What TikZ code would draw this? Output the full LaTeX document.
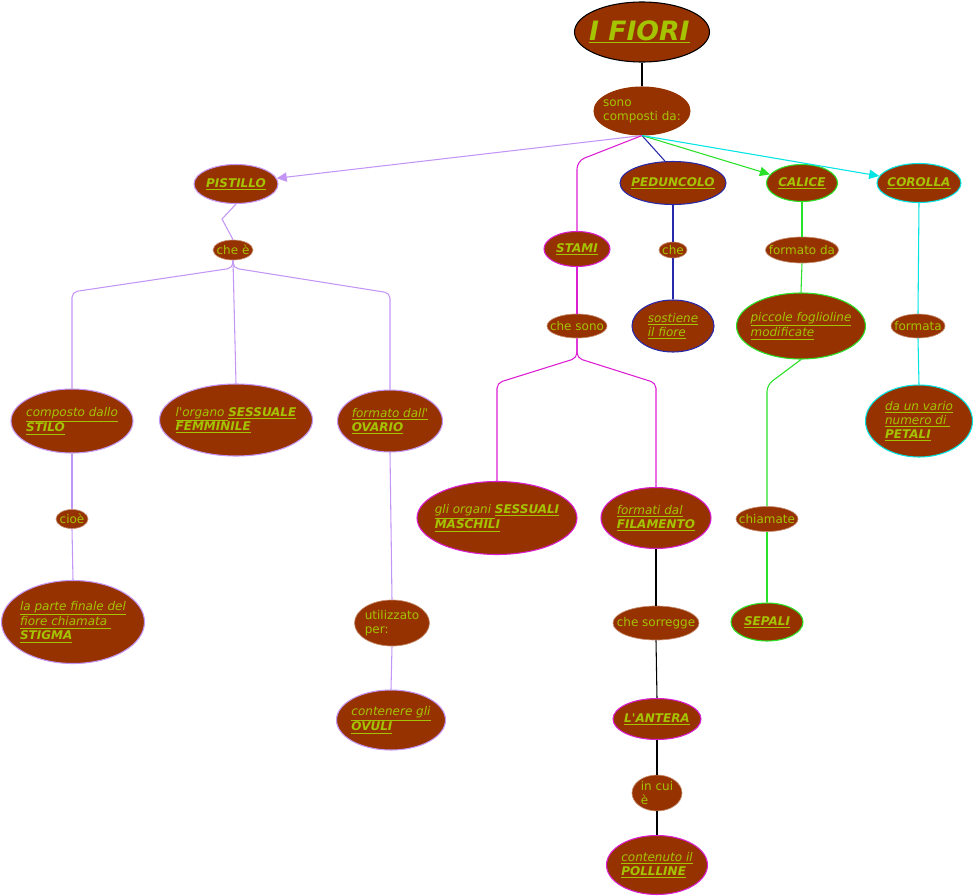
\documentclass[tikz,border=0pt]{standalone}
\usepackage{fontspec}
\setmainfont{DejaVu Sans}
\usetikzlibrary{shapes.geometric,arrows.meta}
\definecolor{brn}{RGB}{150,50,0}
\definecolor{ygr}{RGB}{165,195,0}
\definecolor{lav}{RGB}{195,150,245}
\definecolor{mag}{RGB}{220,30,210}
\definecolor{dblue}{RGB}{40,40,170}
\definecolor{lgreen}{RGB}{40,225,40}
\definecolor{cyn}{RGB}{0,228,228}
\newcommand{\ki}[1]{\underline{\textit{#1}}}
\newcommand{\kb}[1]{\underline{\textbf{\textit{#1}}}}
\newcommand{\apo}{\textquotesingle}
\begin{document}
\begin{tikzpicture}[x=0.75pt,y=-0.75pt,
  el/.style={ellipse, fill=brn, inner sep=0pt, line width=0.8pt},
  sz/.style 2 args={minimum width=#1*0.75pt, minimum height=#2*0.75pt},
  tx/.style={text=ygr, align=left, inner sep=0pt, font=\fontsize{9}{10.5}\selectfont},
  lb/.style={el, draw=brn!55!white, line width=0.5pt},
  ln/.style={line width=0.8pt},
  tip/.style={-{Triangle[length=7.5pt,width=7pt]}}
]
\useasboundingbox (0,0) rectangle (976,896);

% nodes
\node[el,draw=black,sz={135}{60},label={[tx,font=\fontsize{20}{23}\selectfont,xshift=-2pt]center:{\kb{I FIORI}}}] (ifiori) at (642,32) {};
\node[el,draw=brn,sz={96}{48},label={[tx]center:{sono\\composti da:}}] (sono) at (642,111) {};
\node[el,draw=lav,sz={84}{39},label={[tx]center:{\kb{PISTILLO}}}] (pistillo) at (236,184) {};
\node[el,draw=mag,sz={66}{35},label={[tx]center:{\kb{STAMI}}}] (stami) at (577,249) {};
\node[el,draw=dblue,sz={106}{43},label={[tx]center:{\kb{PEDUNCOLO}}}] (peduncolo) at (673,183) {};
\node[el,draw=lgreen,sz={71}{37},label={[tx]center:{\kb{CALICE}}}] (calice) at (802,183) {};
\node[el,draw=cyn,sz={84}{39},label={[tx]center:{\kb{COROLLA}}}] (corolla) at (919,183) {};

\node[lb,sz={40}{20},label={[tx]center:{che è}}] (chee) at (233,250) {};
\node[lb,sz={28}{16},label={[tx]center:{che}}] (che) at (673,250) {};
\node[lb,sz={73}{26},label={[tx]center:{formato da}}] (formatoda) at (802,250) {};
\node[lb,sz={60}{24},label={[tx]center:{che sono}}] (chesono) at (577,326) {};
\node[el,draw=dblue,sz={82}{52},label={[tx]center:{\ki{sostiene}\\\ki{il fiore}}}] (sostiene) at (673,326) {};
\node[el,draw=lgreen,sz={129}{66},label={[tx]center:{\ki{piccole foglioline}\\\ki{modificate}}}] (piccole) at (801,326) {};
\node[lb,sz={54}{24},label={[tx]center:{formata}}] (formata) at (918,326) {};

\node[el,draw=lav,sz={122}{64},label={[tx]center:{\ki{composto dallo}\\\kb{STILO}}}] (stilo) at (72,421) {};
\node[el,draw=lav,sz={153}{72},label={[tx]center:{\ki{l\apo organo\ }\kb{SESSUALE}\\\kb{FEMMINILE}}}] (fem) at (236,420) {};
\node[el,draw=lav,sz={105}{62},label={[tx]center:{\ki{formato dall\apo}\\\kb{OVARIO}}}] (ovario) at (390,421) {};
\node[el,draw=cyn,sz={107}{72},label={[tx]center:{\ki{da un vario}\\\ki{numero di\ }\\\kb{PETALI}}}] (petali) at (919,421) {};

\node[el,draw=mag,sz={160}{73},label={[tx]center:{\ki{gli organi\ }\kb{SESSUALI}\\\kb{MASCHILI}}}] (masch) at (497,518) {};
\node[el,draw=mag,sz={110}{61},label={[tx]center:{\ki{formati dal}\\\kb{FILAMENTO}}}] (filam) at (656,518) {};
\node[lb,sz={62}{25},label={[tx]center:{chiamate}}] (chiamate) at (767,519) {};
\node[lb,sz={32}{19},label={[tx]center:{cioè}}] (cioe) at (72,519) {};

\node[el,draw=lav,sz={143}{83},label={[tx]center:{\ki{la parte finale del}\\\ki{fiore chiamata\ }\\\kb{STIGMA}}}] (stigma) at (73,622) {};
\node[lb,sz={75}{46},label={[tx]center:{utilizzato\\per:}}] (utilizzato) at (392,623) {};
\node[lb,sz={86}{34},label={[tx]center:{che sorregge}}] (chesorregge) at (656,623) {};
\node[el,draw=lgreen,sz={72}{38},label={[tx]center:{\kb{SEPALI}}}] (sepali) at (767,622) {};

\node[el,draw=lav,sz={109}{60},label={[tx]center:{\ki{contenere gli}\\\kb{OVULI}}}] (ovuli) at (391,720) {};
\node[el,draw=mag,sz={88}{41},label={[tx]center:{\kb{L\apo ANTERA}}}] (antera) at (657,719) {};
\node[lb,sz={50}{36},label={[tx]center:{in cui\\è}}] (incui) at (657,793) {};
\node[el,draw=mag,sz={101}{59},label={[tx]center:{\ki{contenuto il}\\\kb{POLLLINE}}}] (polline) at (657,865) {};

% connectors
\draw[ln,black] (ifiori.south) -- (sono.north);
\draw[ln,lav,tip] (sono.south) -- (pistillo.8);
\draw[ln,mag,rounded corners=6pt] (sono.south) -- (577,161) -- (stami.north);
\draw[ln,dblue] (sono.south) -- (peduncolo.110);
\draw[ln,lgreen,tip] (sono.south) -- (calice.165);
\draw[ln,cyn,tip] (sono.south) -- (corolla.170);

\draw[ln,lav] (pistillo.south) -- (222,219) -- (chee.north);
\draw[ln,lav,rounded corners=4pt] (chee.south) -- (233,268) -- (72,292) -- (stilo.north);
\draw[ln,lav] (chee.south) -- (fem.north);
\draw[ln,lav,rounded corners=4pt] (chee.south) -- (233,268) -- (390,293) -- (ovario.north);
\draw[ln,lav] (stilo.south) -- (cioe.north);
\draw[ln,lav] (cioe.south) -- (stigma.north);
\draw[ln,lav] (ovario.south) -- (utilizzato.north);
\draw[ln,lav] (utilizzato.south) -- (ovuli.north);

\draw[ln,mag] (stami.south) -- (chesono.north);
\draw[ln,mag,rounded corners=4pt] (chesono.south) -- (577,358) -- (497,383) -- (masch.north);
\draw[ln,mag,rounded corners=4pt] (chesono.south) -- (577,358) -- (656,383) -- (filam.north);
\draw[ln,black] (filam.south) -- (chesorregge.north);
\draw[ln,black] (chesorregge.south) -- (antera.north);
\draw[ln,black] (antera.south) -- (incui.north);
\draw[ln,black] (incui.south) -- (polline.north);

\draw[ln,dblue] (peduncolo.south) -- (che.north);
\draw[ln,dblue] (che.south) -- (sostiene.north);

\draw[ln,lgreen] (calice.south) -- (formatoda.north);
\draw[ln,lgreen] (formatoda.south) -- (piccole.north);
\draw[ln,lgreen,rounded corners=5pt] (piccole.south) -- (767,385) -- (chiamate.north);
\draw[ln,lgreen] (chiamate.south) -- (sepali.north);

\draw[ln,cyn] (corolla.south) -- (formata.north);
\draw[ln,cyn] (formata.south) -- (petali.north);
\end{tikzpicture}
\end{document}
